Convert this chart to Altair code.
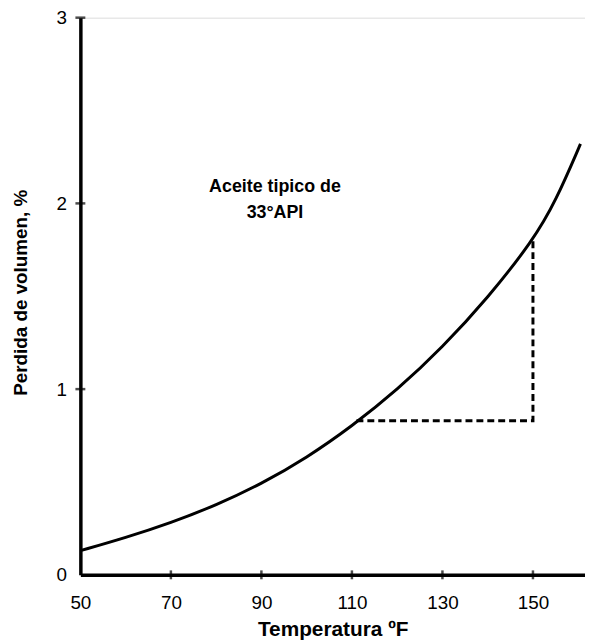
import altair as alt
import pandas as pd

# Curve
temp_f = [50, 60, 70, 80, 90, 100, 110, 120, 130, 140, 150, 155, 160.5]
loss_pct = [0.13, 0.20, 0.28, 0.375, 0.49, 0.63, 0.80, 0.995, 1.225, 1.49, 1.80, 2.01, 2.32]

# Dashed construction lines
dash_x = [111, 150, 150]
dash_y = [0.83, 0.83, 1.80]
dash_order = [0, 1, 2]

# Annotation
note_x = [93, 93]
note_y = [2.09, 1.95]
note_text = ["Aceite tipico de", "33°API"]

x_ticks = [50, 70, 90, 110, 130, 150]
x_inner_ticks = [70, 90, 110, 130, 150]
y_ticks = [0, 1, 2, 3]
y_inner_ticks = [1, 2, 3]

FONT = "Liberation Sans"

curve_df = pd.DataFrame({"t": temp_f, "v": loss_pct})
dash_df = pd.DataFrame({"t": dash_x, "v": dash_y, "o": dash_order})
note_df = pd.DataFrame({"t": note_x, "v": note_y, "label": note_text})
xt_df = pd.DataFrame({"t": x_inner_ticks})
yt_df = pd.DataFrame({"v": y_inner_ticks})

xscale = alt.Scale(domain=[50, 161.5], nice=False, zero=False)
yscale = alt.Scale(domain=[0, 3], nice=False)

xaxis = alt.Axis(
    values=x_ticks, format="d", title="Temperatura ºF", grid=False, ticks=False, tickSize=0,
    labelFontSize=19, labelPadding=34, labelBaseline="alphabetic", labelColor="black",
    labelFlush=False, labelOverlap=False,
    titleFontSize=21, titleFontWeight="bold", titleColor="black",
    titleY=61, titleBaseline="alphabetic",
    domainColor="black", domainWidth=3.5,
)
yaxis = alt.Axis(
    values=y_ticks, format="d", title="Perdida de volumen, %", grid=False, ticks=False, tickSize=0,
    labelFontSize=19, labelPadding=14, labelColor="black",
    labelFlush=False, labelOverlap=False,
    titleFontSize=19, titleFontWeight="bold", titleColor="black",
    titleX=-60, titleY=277, titleAngle=-90, titleAlign="center", titleBaseline="middle",
    domainColor="black", domainWidth=3.5,
)

curve = alt.Chart(curve_df).mark_line(
    color="black", strokeWidth=3, interpolate="basis"
).encode(
    x=alt.X("t:Q", scale=xscale, axis=xaxis),
    y=alt.Y("v:Q", scale=yscale, axis=yaxis),
)

dash = alt.Chart(dash_df).mark_line(
    color="black", strokeWidth=3, strokeDash=[7, 4]
).encode(
    x=alt.X("t:Q", scale=xscale),
    y=alt.Y("v:Q", scale=yscale),
    order="o:Q",
)

note = alt.Chart(note_df).mark_text(
    font=FONT, fontSize=18, fontWeight="bold", color="black", align="center", baseline="middle"
).encode(
    x=alt.X("t:Q", scale=xscale),
    y=alt.Y("v:Q", scale=yscale),
    text="label:N",
)

xt = alt.Chart(xt_df).mark_tick(color="black", thickness=2.5, size=9).encode(
    x=alt.X("t:Q", scale=xscale),
    y=alt.value(562),
)
yt = alt.Chart(yt_df).mark_tick(color="black", thickness=2.5, size=10).encode(
    y=alt.Y("v:Q", scale=yscale),
    x=alt.value(0),
)

chart = alt.layer(curve, dash, note, xt, yt).properties(
    width=509, height=562,
    autosize=alt.AutoSizeParams(type="none"),
    padding={"left": 73, "top": 7, "right": 0, "bottom": 66},
).configure_view(stroke=None).configure(font=FONT)

chart.save("out.html", embed_options={"renderer": "svg", "actions": False})
